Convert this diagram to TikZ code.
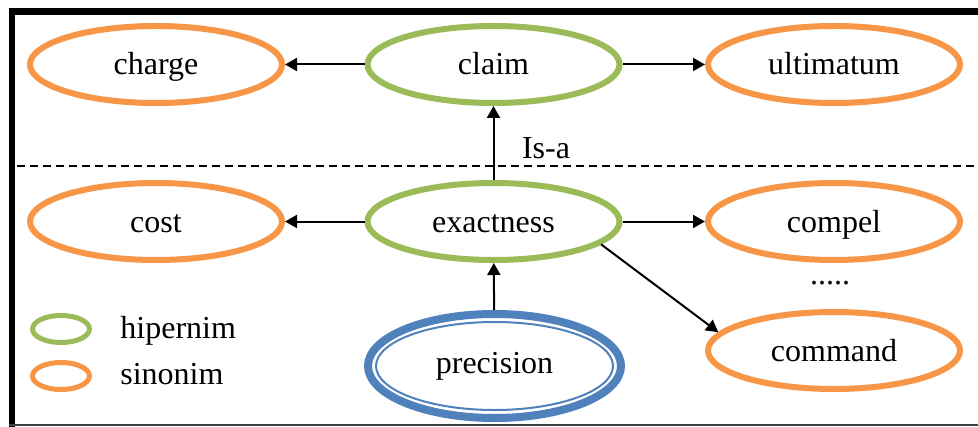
\documentclass[tikz,border=0pt]{standalone}
\usepackage{fontspec}
\setmainfont{Liberation Serif}
\usetikzlibrary{shapes.geometric,arrows.meta}
\definecolor{orng}{HTML}{F79646}
\definecolor{grn}{HTML}{9BBB59}
\definecolor{blu}{HTML}{4F81BD}
\definecolor{frame}{HTML}{404040}
\begin{document}
\begin{tikzpicture}[x=0.5pt,y=-0.5pt,
  txt/.style={font=\fontsize{16}{19}\selectfont},
  word/.style={ellipse, draw, line width=3pt, minimum width=126pt, minimum height=38.5pt,
    inner sep=0pt, txt, text height=11pt, text depth=0.5pt},
  syn/.style={word, draw=orng},
  hyp/.style={word, draw=grn},
  legend/.style={ellipse, draw, line width=2.5pt, minimum width=28.5pt, minimum height=13.5pt, inner sep=0pt},
  arr/.style={line width=1pt, -{Triangle[length=6pt,width=6.5pt]}},
  lbl/.style={txt, inner sep=0pt}
]
\useasboundingbox[fill=white] (0,0) rectangle (978,427);
% frame
\draw[line width=3.5pt] (9,11.5) -- (978,11.5);
\draw[line width=3pt] (12,8) -- (12,427);
\draw[frame, line width=1pt] (9,425) -- (978,425);
% separator
\draw[line width=1pt, dash pattern=on 4pt off 2.5pt] (17,166) -- (978,166);

% nodes
\node[syn] (charge) at (156,64.5) {charge};
\node[hyp] (claim) at (493.5,64.5) {claim};
\node[syn] (ultimatum) at (834,64.5) {ultimatum};
\node[syn] (cost) at (156,221.5) {cost};
\node[hyp] (exactness) at (493.5,221.5) {exactness};
\node[syn] (compel) at (834,221.5) {compel};
\node[syn] (command) at (834,350.5) {command};
\node[word, draw=blu, line width=4pt, minimum width=126.5pt, minimum height=52pt, text depth=3.5pt] (precision) at (494.5,366) {precision};
\draw[blu, line width=1pt] (precision.center) ellipse [x radius=59.25pt, y radius=22pt];

\node[lbl, anchor=base] (dots) at (830,284) {.....};
\node[lbl] (isa) at (546,148) {Is-a};

% legend
\node[legend, draw=grn] (lg) at (61,329) {};
\node[legend, draw=orng] (lo) at (61,376) {};
\node[lbl, anchor=base west] (lgt) at (120,338) {hipernim};
\node[lbl, anchor=base west] (lot) at (120,384) {sinonim};

% connectors
\draw[arr] (claim) -- (charge);
\draw[arr] (claim) -- (ultimatum);
\draw[arr] (exactness) -- (claim);
\draw[arr] (exactness) -- (cost);
\draw[arr] (exactness) -- (compel);
\draw[arr] (exactness.-12) -- (command.171);
\draw[arr] (precision) -- (exactness);
\end{tikzpicture}
\end{document}
